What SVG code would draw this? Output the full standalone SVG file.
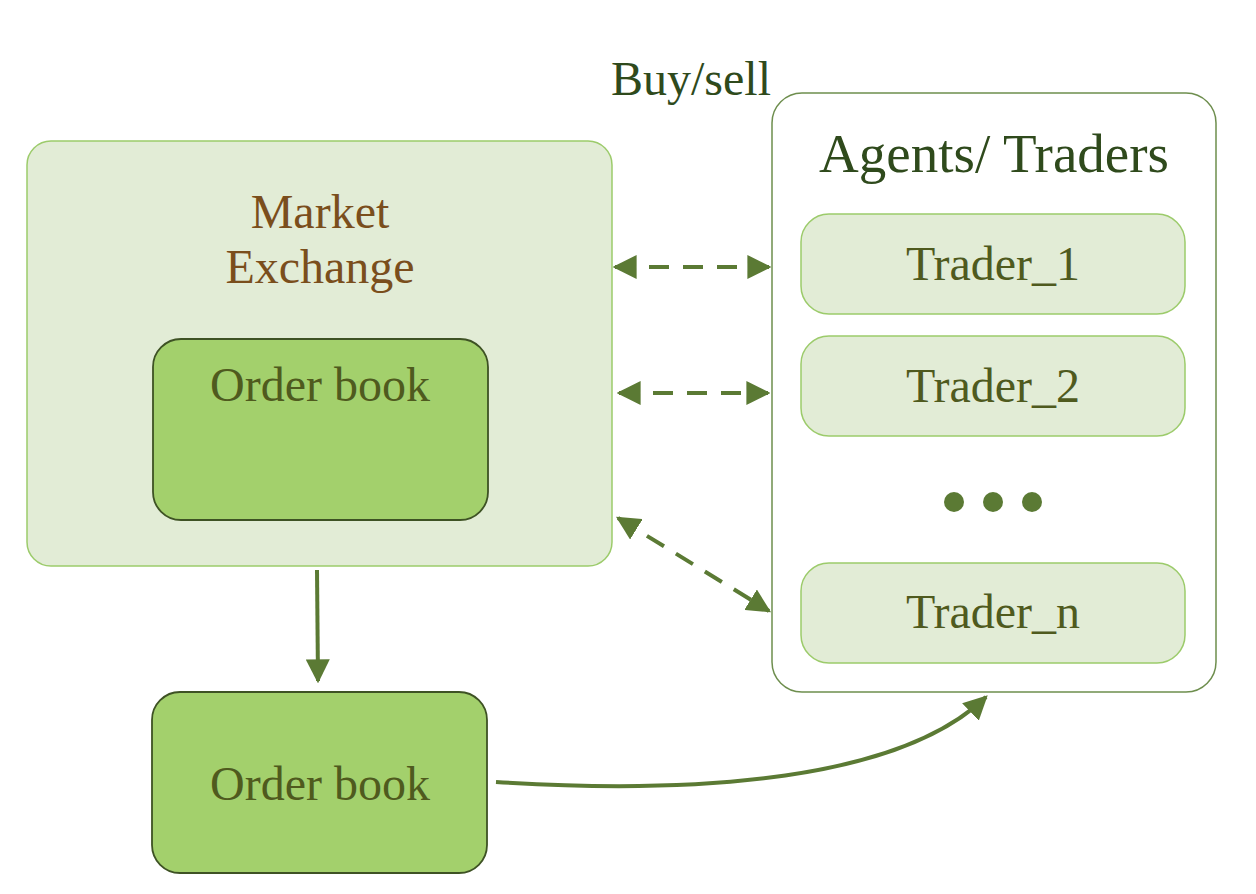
<svg xmlns="http://www.w3.org/2000/svg" width="1256" height="894" viewBox="0 0 1256 894">
<defs>
<style>
.t{font-family:"Liberation Serif","Times New Roman",serif;text-anchor:middle}
.light{fill:#E2ECD6;stroke:#9CCB6B;stroke-width:1.5}
.book{fill:#A3D06C;stroke:#3E5224;stroke-width:1.8}
.dash{fill:none;stroke:#5B7A34;stroke-width:4;stroke-dasharray:20 14}
.solid{fill:none;stroke:#5B7A34;stroke-width:4}
</style>
<marker id="ah" viewBox="0 0 10 10" refX="9" refY="5" markerWidth="6" markerHeight="6" orient="auto-start-reverse" markerUnits="strokeWidth">
<path d="M0,0 L10,5 L0,10 z" fill="#5B7A34"/>
</marker>
</defs>
<rect width="1256" height="894" fill="#fff"/>
<text class="t" x="691" y="95" font-size="48" fill="#2F4A1C">Buy/sell</text>
<g id="market">
<rect class="light" x="27" y="141" width="585" height="425" rx="24"/>
<text class="t" x="320" y="228" font-size="48" fill="#7A4E1C">Market</text>
<text class="t" x="320" y="283" font-size="48" fill="#7A4E1C">Exchange</text>
</g>
<g id="orderbook-inner">
<rect class="book" x="153" y="339" width="335" height="181" rx="28"/>
<text class="t" x="320" y="401" font-size="48" fill="#4F5A1E">Order book</text>
</g>
<g id="agents">
<rect x="772" y="93" width="444" height="599" rx="30" fill="#fff" stroke="#6E8E4E" stroke-width="1.5"/>
<text class="t" x="994" y="172" font-size="55" fill="#2F4A1C">Agents/ Traders</text>
</g>
<g id="trader1">
<rect class="light" x="801" y="214" width="384" height="100" rx="28"/>
<text class="t" x="993" y="280" font-size="48" fill="#4F5A1E">Trader_1</text>
</g>
<g id="trader2">
<rect class="light" x="801" y="336" width="384" height="100" rx="28"/>
<text class="t" x="993" y="402" font-size="48" fill="#4F5A1E">Trader_2</text>
</g>
<g id="dots" fill="#5B7A34">
<circle cx="954" cy="502" r="10"/>
<circle cx="993" cy="502" r="10"/>
<circle cx="1032" cy="502" r="10"/>
</g>
<g id="tradern">
<rect class="light" x="801" y="563" width="384" height="100" rx="28"/>
<text class="t" x="993" y="628" font-size="48" fill="#4F5A1E">Trader_n</text>
</g>
<g id="orderbook-out">
<rect class="book" x="152" y="692" width="335" height="181" rx="28"/>
<text class="t" x="320" y="800" font-size="48" fill="#4F5A1E">Order book</text>
</g>
<g id="connectors">
<line class="dash" x1="615" y1="267" x2="769" y2="267" marker-start="url(#ah)" marker-end="url(#ah)"/>
<line class="dash" x1="619" y1="393" x2="768" y2="393" marker-start="url(#ah)" marker-end="url(#ah)"/>
<line class="dash" x1="618" y1="518" x2="769" y2="611" marker-start="url(#ah)" marker-end="url(#ah)"/>
<line class="solid" x1="317" y1="570" x2="318" y2="681" marker-end="url(#ah)"/>
<path class="solid" d="M496,782 C700,795 900,780 986,697" marker-end="url(#ah)"/>
</g>
</svg>
